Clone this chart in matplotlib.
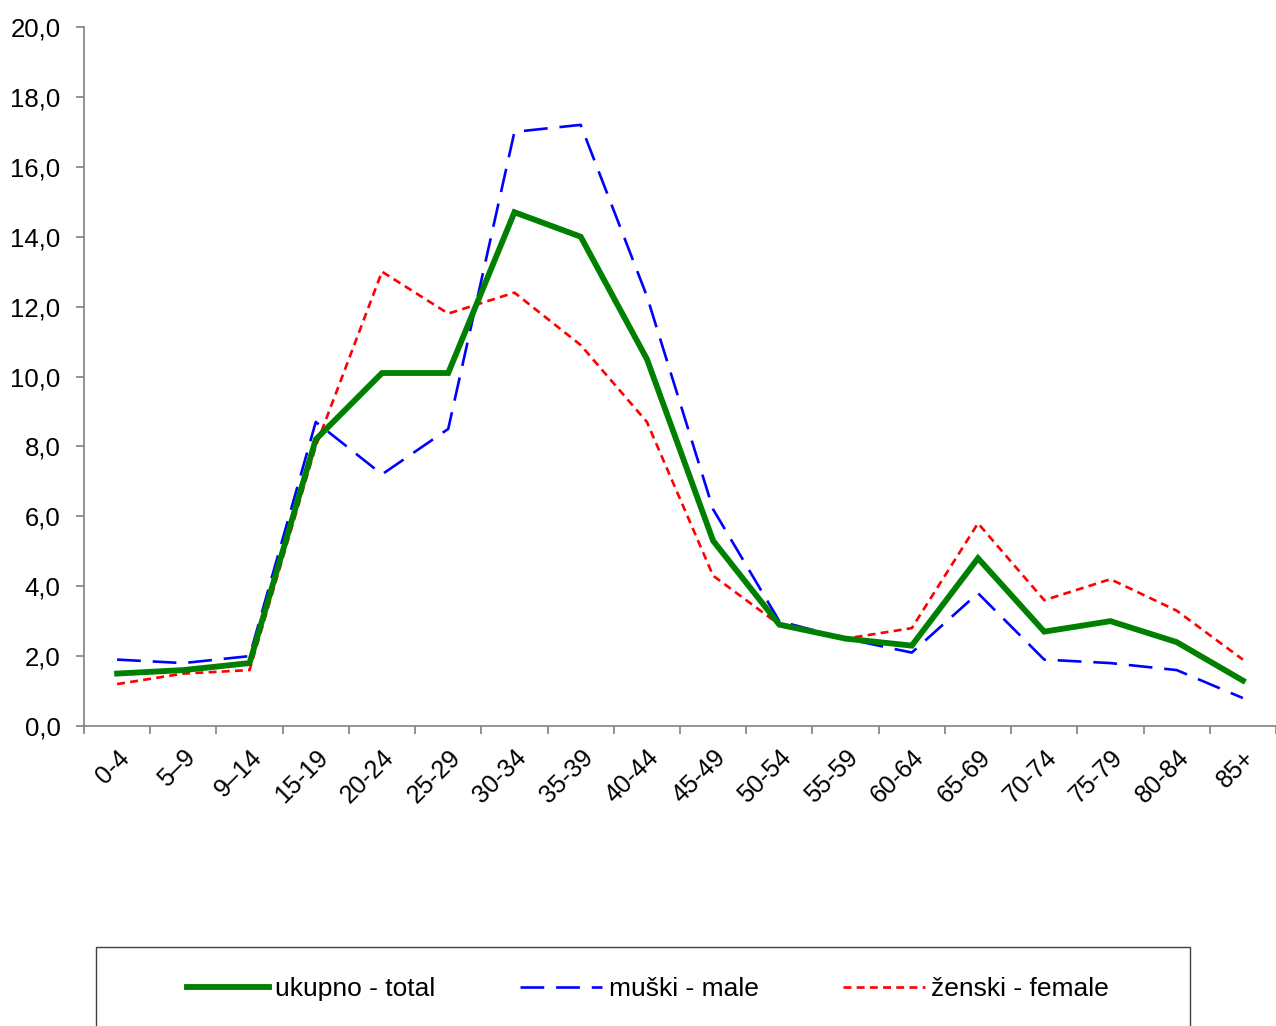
import matplotlib.pyplot as plt
from matplotlib.patches import Rectangle
from matplotlib.ticker import FixedLocator, FuncFormatter
import numpy as np

plt.rcParams['font.family'] = ['Liberation Sans', 'DejaVu Sans']

age_groups = ['0-4', '5\u20139', '9\u201314', '15-19', '20-24', '25-29', '30-34', '35-39',
              '40-44', '45-49', '50-54', '55-59', '60-64', '65-69', '70-74', '75-79',
              '80-84', '85+']
total = [1.5, 1.6, 1.8, 8.2, 10.1, 10.1, 14.7, 14.0, 10.5, 5.3, 2.9, 2.5, 2.3, 4.8, 2.7, 3.0, 2.4, 1.3]
male = [1.9, 1.8, 2.0, 8.7, 7.2, 8.5, 17.0, 17.2, 12.3, 6.2, 3.0, 2.5, 2.1, 3.8, 1.9, 1.8, 1.6, 0.8]
female = [1.2, 1.5, 1.6, 8.0, 13.0, 11.8, 12.4, 10.9, 8.7, 4.3, 2.9, 2.5, 2.8, 5.8, 3.6, 4.2, 3.3, 1.9]

W, H = 1276, 1026
fig = plt.figure(figsize=(W / 100, H / 100), dpi=100)
ax = fig.add_axes([84 / W, (H - 726) / H, (W - 84) / W, (726 - 27) / H])

x = np.arange(len(age_groups))
ax.plot(x, total, color='#008000', lw=4.2, solid_joinstyle='miter', label='ukupno - total', zorder=3)
ax.plot(x, male, color='#0000ff', lw=1.9, dashes=(9, 4.5), label='mu\u0161ki - male', zorder=2)
ax.plot(x, female, color='#ff0000', lw=1.9, dashes=(3, 2), label='\u017eenski - female', zorder=2)

ax.set_xlim(-0.5, len(age_groups) - 0.5)
ax.set_ylim(0, 20)
ax.set_yticks(np.arange(0, 20.1, 2))
ax.yaxis.set_major_formatter(FuncFormatter(lambda v, p: f'{v:.1f}'.replace('.', ',')))

ax.xaxis.set_major_locator(FixedLocator(np.arange(-0.5, len(age_groups), 1)))
ax.xaxis.set_major_formatter(FuncFormatter(lambda v, p: ''))
ax.set_xticks(x, minor=True)
ax.set_xticklabels(age_groups, minor=True, rotation=45, ha='right', va='top',
                   rotation_mode='anchor', fontsize=18)
ax.tick_params(axis='x', which='minor', length=0, pad=14)
ax.tick_params(axis='both', which='major', length=6, width=1.2, color='#808080',
               labelsize=18.5, direction='out')
ax.tick_params(axis='y', pad=11)

for s in ['top', 'right']:
    ax.spines[s].set_visible(False)
for s in ['left', 'bottom']:
    ax.spines[s].set_color('#808080')
    ax.spines[s].set_linewidth(1.2)

# legend box (runs off the bottom of the figure)
fig.patches.append(Rectangle((96 / W, -0.02), (1190 - 96) / W, (H - 947) / H + 0.02,
                             transform=fig.transFigure, fill=False, edgecolor='#404040',
                             lw=1.0))
handles, labels = ax.get_legend_handles_labels()
fig.legend(handles, labels, loc='center', bbox_to_anchor=(648 / W, (H - 989) / H),
           ncol=3, frameon=False, fontsize=19, handlelength=3.1, handletextpad=0.25,
           columnspacing=3.2)

fig.savefig('out.png', dpi=100)
